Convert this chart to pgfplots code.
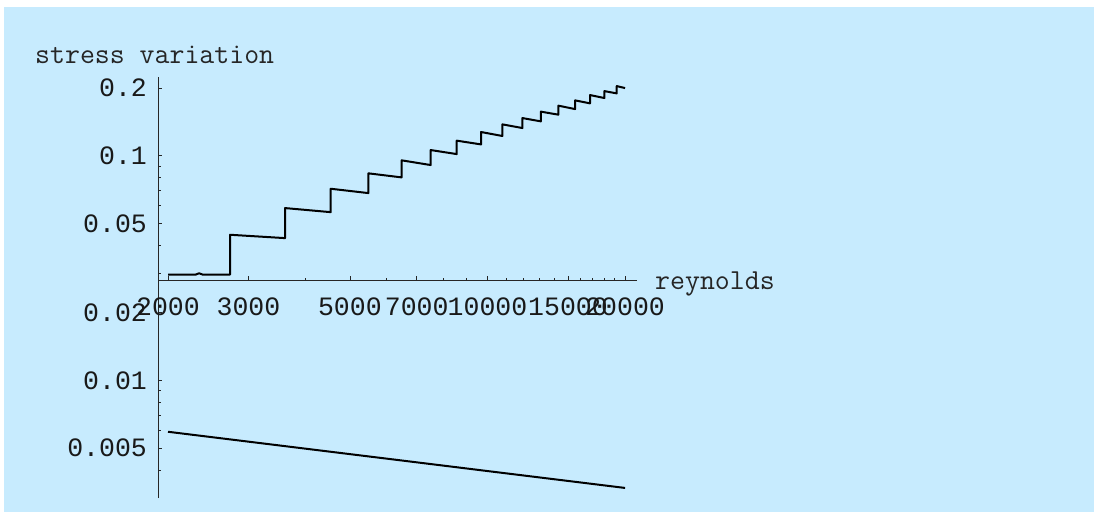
\documentclass[border=0pt]{standalone}
\usepackage{fontspec}
\usepackage{pgfplots}
\pgfplotsset{compat=1.18}
\newfontfamily\tickfont{Liberation Mono}
\definecolor{bgblue}{RGB}{199,235,254}
\begin{document}
\begin{tikzpicture}[x=1pt,y=1pt]
\fill[white] (0,0) rectangle (1094,512);
\fill[bgblue] (4,0) rectangle (1094,505);
\begin{axis}[
  at={(158pt,14pt)}, anchor=south west,
  scale only axis, width=479pt, height=421pt,
  xmode=log, ymode=log,
  xmin=1902, xmax=21240, ymin=0.003, ymax=0.224,
  axis x line=bottom, axis y line=left,
  axis x line shift=-218pt,
  axis line style={black!85, line width=0.8pt, -},
  tick align=inside,
  major tick length=4pt, minor tick length=2.5pt,
  tick style={black!85, line width=0.8pt},
  xtick={2000,3000,5000,7000,10000,15000,20000},
  xticklabels={2000,3000,5000,7000,10000,15000,20000},
  minor xtick={4000,6000,8000,9000,11000,12000,13000,14000,16000,17000,18000,19000},
  ytick={0.005,0.01,0.02,0.05,0.1,0.2},
  yticklabels={0.005,0.01,0.02,0.05,0.1,0.2},
  minor ytick={0.004,0.006,0.007,0.008,0.009,0.03,0.04,0.06,0.07,0.08,0.09},
  ticklabel style={font=\tickfont\fontsize{26.5}{26.5}\selectfont, text=black!90},
  xticklabel style={anchor=north, inner sep=0pt, yshift=-18pt},
  yticklabel style={anchor=east, inner sep=0pt, xshift=-11pt},
  clip=false,
]
\addplot[black, line width=2pt, line join=round] coordinates {
(2000,0.0296) (2300,0.0296) (2339,0.0300) (2380,0.0296) (2734,0.0296)
(2734,0.0445) (3606,0.0430)
(3606,0.0585) (4540,0.0561)
(4540,0.0713) (5488,0.0682)
(5488,0.0835) (6488,0.0801)
(6488,0.0954) (7512,0.0909)
(7512,0.1060) (8564,0.1017)
(8564,0.1167) (9682,0.1123)
(9682,0.1275) (10778,0.1224)
(10778,0.1379) (11924,0.1328)
(11924,0.1471) (13082,0.1422)
(13082,0.1571) (14290,0.1523)
(14290,0.1670) (15550,0.1613)
(15550,0.1763) (16762,0.1710)
(16762,0.1862) (18020,0.1806)
(18020,0.1939) (19180,0.1894)
(19180,0.2041) (20000,0.2000)
};
\addplot[black, line width=2pt, line join=round] coordinates {
(2000,0.005914) (3000,0.005344) (4000,0.004973) (5000,0.004703)
(6000,0.004494) (8000,0.004182) (10000,0.003955) (12000,0.003779)
(14000,0.003636) (16000,0.003517) (18000,0.003415) (20000,0.003326)
};
\end{axis}
\node[anchor=base west, inner sep=0pt, text=black!85, font=\ttfamily\fontsize{29}{29}\selectfont] at (35,448) {stress variation};
\node[anchor=base west, inner sep=0pt, text=black!85, font=\ttfamily\fontsize{29}{29}\selectfont] at (655,223) {reynolds};
\end{tikzpicture}
\end{document}
